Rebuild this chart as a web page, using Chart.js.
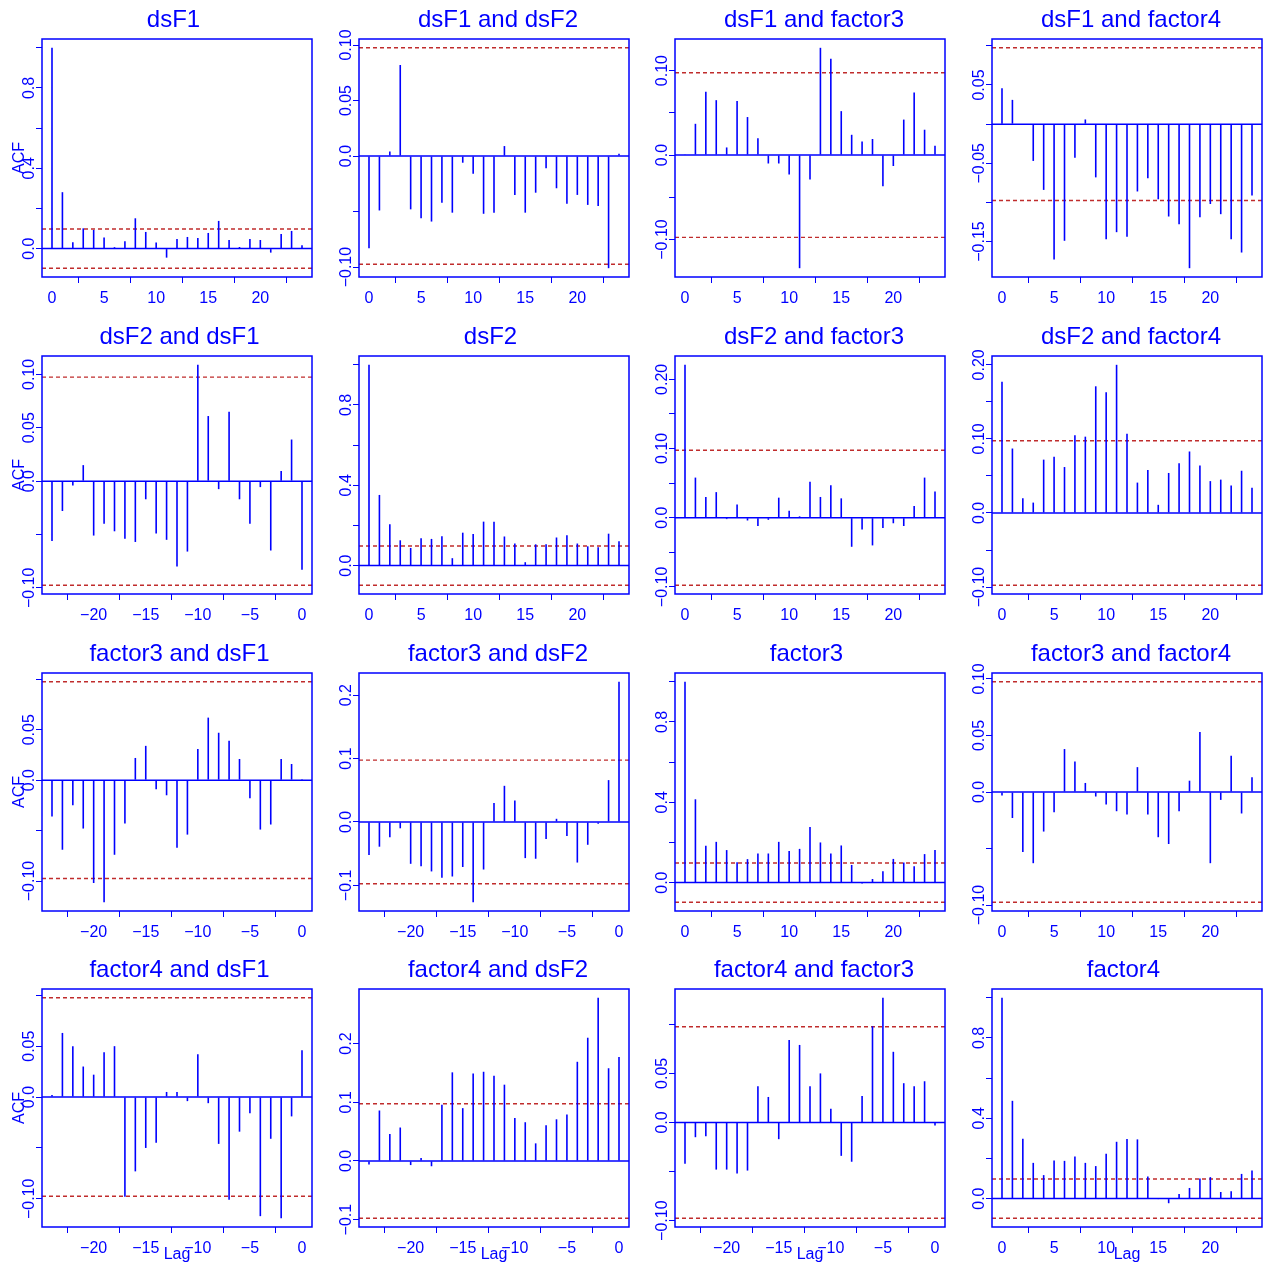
<!DOCTYPE html>
<html>
<head>
<meta charset="utf-8">
<title>ACF / CCF matrix</title>
<script src="https://cdn.jsdelivr.net/npm/chart.js@4.4.1/dist/chart.umd.min.js"></script>
<style>
  html, body { margin: 0; padding: 0; background: #ffffff; }
  #grid { position: relative; width: 1265px; height: 1266px; background: #ffffff; overflow: hidden; }
  #grid canvas { position: absolute; }
</style>
</head>
<body>
<div id="grid"></div>
<script>
// Lags shown on the diagonal / upper panels and on the lower panels
const lagsPos = [0, 1, 2, 3, 4, 5, 6, 7, 8, 9, 10, 11, 12, 13, 14, 15, 16, 17, 18, 19, 20, 21, 22, 23, 24];
const lagsNeg = [-24, -23, -22, -21, -20, -19, -18, -17, -16, -15, -14, -13, -12, -11, -10, -9, -8, -7, -6, -5, -4, -3, -2, -1, 0];

// x-axis ticks
const xTicksPos = [0, 5, 10, 15, 20];
const xLabelsPos = ['0', '5', '10', '15', '20'];
const xTicksNeg = [-20, -15, -10, -5, 0];
const xLabelsNeg = ['\u221220', '\u221215', '\u221210', '\u22125', '0'];

// approximate 95% white-noise bound
const ciBound = 0.0975;

// autocorrelations / cross-correlations
const acfDsF1 = [1.0, 0.281, 0.032, 0.101, 0.093, 0.055, 0.007, 0.037, 0.151, 0.083, 0.030, -0.045, 0.048, 0.058, 0.053, 0.078, 0.138, 0.043, 0.008, 0.048, 0.043, -0.020, 0.073, 0.088, 0.017];
const ccfDsF1DsF2 = [-0.083, -0.049, 0.004, 0.082, -0.048, -0.056, -0.059, -0.042, -0.051, -0.006, -0.016, -0.052, -0.051, 0.009, -0.035, -0.051, -0.033, -0.011, -0.029, -0.043, -0.035, -0.044, -0.045, -0.101, 0.002];
const ccfDsF1Factor3 = [0.001, 0.037, 0.075, 0.065, 0.009, 0.064, 0.045, 0.020, -0.010, -0.010, -0.023, -0.134, -0.029, 0.127, 0.114, 0.052, 0.024, 0.016, 0.019, -0.037, -0.013, 0.042, 0.074, 0.030, 0.011];
const ccfDsF1Factor4 = [0.046, 0.031, -0.001, -0.047, -0.084, -0.173, -0.149, -0.043, 0.006, -0.068, -0.147, -0.138, -0.144, -0.086, -0.069, -0.096, -0.118, -0.128, -0.184, -0.119, -0.102, -0.115, -0.147, -0.164, -0.091];

const ccfDsF2DsF1 = [-0.056, -0.028, -0.004, 0.015, -0.051, -0.040, -0.047, -0.054, -0.057, -0.017, -0.049, -0.055, -0.080, -0.066, 0.109, 0.061, -0.0075, 0.065, -0.017, -0.040, -0.0056, -0.065, 0.0094, 0.039, -0.083];
const acfDsF2 = [1.0, 0.352, 0.206, 0.126, 0.088, 0.136, 0.133, 0.146, 0.037, 0.164, 0.158, 0.219, 0.219, 0.145, 0.110, 0.017, 0.106, 0.106, 0.140, 0.151, 0.110, 0.096, 0.091, 0.159, 0.121];
const ccfDsF2Factor3 = [0.221, 0.058, 0.030, 0.037, -0.002, 0.019, -0.004, -0.012, -0.003, 0.029, 0.010, 0.002, 0.052, 0.030, 0.047, 0.028, -0.042, -0.017, -0.040, -0.015, -0.008, -0.012, 0.017, 0.058, 0.038];
const ccfDsF2Factor4 = [0.177, 0.087, 0.020, 0.014, 0.072, 0.076, 0.062, 0.105, 0.103, 0.171, 0.163, 0.200, 0.107, 0.041, 0.058, 0.011, 0.054, 0.067, 0.083, 0.064, 0.043, 0.045, 0.037, 0.057, 0.034];

const ccfFactor3DsF1 = [-0.036, -0.069, -0.025, -0.048, -0.102, -0.121, -0.074, -0.043, 0.022, 0.034, -0.009, -0.015, -0.067, -0.054, 0.031, 0.062, 0.047, 0.039, 0.021, -0.018, -0.049, -0.044, 0.021, 0.016, 0.001];
const ccfFactor3DsF2 = [-0.052, -0.039, -0.024, -0.010, -0.066, -0.070, -0.078, -0.088, -0.086, -0.071, -0.1265, -0.075, 0.030, 0.057, 0.034, -0.057, -0.058, -0.027, 0.005, -0.022, -0.064, -0.036, -0.003, 0.066, 0.221];
const acfFactor3 = [1.0, 0.415, 0.183, 0.203, 0.162, 0.102, 0.117, 0.145, 0.145, 0.203, 0.158, 0.168, 0.277, 0.200, 0.145, 0.185, 0.088, -0.004, 0.018, 0.057, 0.118, 0.100, 0.082, 0.142, 0.162];
const ccfFactor3Factor4 = [-0.003, -0.023, -0.053, -0.063, -0.035, -0.018, 0.038, 0.027, 0.008, -0.004, -0.011, -0.017, -0.020, 0.022, -0.020, -0.040, -0.046, -0.017, 0.010, 0.053, -0.063, -0.007, 0.032, -0.019, 0.013];

const ccfFactor4DsF1 = [0.002, 0.063, 0.050, 0.030, 0.022, 0.044, 0.050, -0.098, -0.073, -0.050, -0.045, 0.005, 0.005, -0.004, 0.042, -0.006, -0.046, -0.101, -0.034, -0.016, -0.117, -0.041, -0.119, -0.019, 0.046];
const ccfFactor4DsF2 = [-0.006, 0.086, 0.046, 0.057, -0.007, 0.005, -0.009, 0.096, 0.151, 0.090, 0.149, 0.152, 0.145, 0.130, 0.073, 0.066, 0.030, 0.061, 0.071, 0.079, 0.169, 0.210, 0.278, 0.158, 0.177];
const ccfFactor4Factor3 = [-0.042, -0.015, -0.014, -0.048, -0.048, -0.052, -0.049, 0.037, 0.026, -0.017, 0.084, 0.079, 0.037, 0.050, 0.014, -0.034, -0.040, 0.027, 0.098, 0.127, 0.072, 0.040, 0.037, 0.042, -0.003];
const acfFactor4 = [1.0, 0.487, 0.298, 0.178, 0.117, 0.190, 0.188, 0.210, 0.178, 0.162, 0.223, 0.283, 0.297, 0.295, 0.110, -0.002, -0.023, 0.023, 0.053, 0.100, 0.107, 0.033, 0.037, 0.123, 0.140];

// panel titles, row by row
const titles = [
  'dsF1', 'dsF1 and dsF2', 'dsF1 and factor3', 'dsF1 and factor4',
  'dsF2 and dsF1', 'dsF2', 'dsF2 and factor3', 'dsF2 and factor4',
  'factor3 and dsF1', 'factor3 and dsF2', 'factor3', 'factor3 and factor4',
  'factor4 and dsF1', 'factor4 and dsF2', 'factor4 and factor3', 'factor4'
];

// y-axis ticks (blank label = tick mark only)
const yTicksUnit = [0, 0.2, 0.4, 0.6, 0.8, 1.0];
const yLabelsUnit = ['0.0', '', '0.4', '', '0.8', ''];
const yTicksSmall = [-0.10, -0.05, 0, 0.05, 0.10];
const yLabelsSmallA = ['\u22120.10', '', '0.0', '0.05', '0.10'];
const yLabelsSmallB = ['\u22120.10', '', '0.0', '', '0.10'];
const yLabelsSmallC = ['\u22120.10', '', '0.0', '0.05', ''];
const yTicksNegWide = [-0.15, -0.10, -0.05, 0, 0.05, 0.10];
const yLabelsNegWide = ['\u22120.15', '', '\u22120.05', '', '0.05', ''];
const yTicksPosWide = [-0.10, -0.05, 0, 0.05, 0.10, 0.15, 0.20];
const yLabelsPosWide = ['\u22120.10', '', '0.0', '', '0.10', '', '0.20'];
const yTicksTenths = [-0.1, 0, 0.1, 0.2];
const yLabelsTenths = ['\u22120.1', '0.0', '0.1', '0.2'];

const panels = [
  { title: titles[0],  lags: lagsPos, values: acfDsF1,           yt: yTicksUnit,     yl: yLabelsUnit },
  { title: titles[1],  lags: lagsPos, values: ccfDsF1DsF2,       yt: yTicksSmall,    yl: yLabelsSmallA },
  { title: titles[2],  lags: lagsPos, values: ccfDsF1Factor3,    yt: yTicksSmall,    yl: yLabelsSmallB },
  { title: titles[3],  lags: lagsPos, values: ccfDsF1Factor4,    yt: yTicksNegWide,  yl: yLabelsNegWide },
  { title: titles[4],  lags: lagsNeg, values: ccfDsF2DsF1,       yt: yTicksSmall,    yl: yLabelsSmallA },
  { title: titles[5],  lags: lagsPos, values: acfDsF2,           yt: yTicksUnit,     yl: yLabelsUnit },
  { title: titles[6],  lags: lagsPos, values: ccfDsF2Factor3,    yt: yTicksPosWide,  yl: yLabelsPosWide },
  { title: titles[7],  lags: lagsPos, values: ccfDsF2Factor4,    yt: yTicksPosWide,  yl: yLabelsPosWide },
  { title: titles[8],  lags: lagsNeg, values: ccfFactor3DsF1,    yt: yTicksSmall,    yl: yLabelsSmallC },
  { title: titles[9],  lags: lagsNeg, values: ccfFactor3DsF2,    yt: yTicksTenths,   yl: yLabelsTenths },
  { title: titles[10], lags: lagsPos, values: acfFactor3,        yt: yTicksUnit,     yl: yLabelsUnit },
  { title: titles[11], lags: lagsPos, values: ccfFactor3Factor4, yt: yTicksSmall,    yl: yLabelsSmallA },
  { title: titles[12], lags: lagsNeg, values: ccfFactor4DsF1,    yt: yTicksSmall,    yl: yLabelsSmallC },
  { title: titles[13], lags: lagsNeg, values: ccfFactor4DsF2,    yt: yTicksTenths,   yl: yLabelsTenths },
  { title: titles[14], lags: lagsNeg, values: ccfFactor4Factor3, yt: yTicksSmall,    yl: yLabelsSmallC },
  { title: titles[15], lags: lagsPos, values: acfFactor4,        yt: yTicksUnit,     yl: yLabelsUnit }
];

const FONT = '"Liberation Sans", Arial, Helvetica, sans-serif';
const BLUE = '#0000ff';
const RED = '#c02c2c';

const CELL_W = 316.7, CELL_H = 316.8, CANVAS = 317;
const PAD_TOP = 39, Y_AXIS_W = 42, PAD_RIGHT = 5, X_AXIS_H = 40;

const gridEl = document.getElementById('grid');

// box, title, rotated y labels and axis titles
function framePlugin(panel, row, col) {
  // single-series titles sit a little left of centre, pair titles a little right
  const titleShift = row === col ? -3.5 : (col === 0 ? 2.5 : 4);
  return {
    id: 'frame' + row + col,
    afterDraw(chart) {
      const { ctx, chartArea: a } = chart;
      const yScale = chart.scales.y;
      ctx.save();
      ctx.strokeStyle = BLUE;
      ctx.lineWidth = 1.5;
      ctx.strokeRect(a.left, a.top, a.right - a.left, a.bottom - a.top);

      ctx.fillStyle = BLUE;
      ctx.textBaseline = 'alphabetic';
      ctx.textAlign = 'center';
      ctx.font = '24px ' + FONT;
      ctx.fillText(panel.title, (a.left + a.right) / 2 + titleShift, a.top - 12.5);

      ctx.font = '16px ' + FONT;
      panel.yt.forEach((v, k) => {
        const lbl = panel.yl[k];
        if (!lbl) return;
        const y = yScale.getPixelForValue(v);
        ctx.save();
        ctx.translate(a.left - 8.5, y);
        ctx.rotate(-Math.PI / 2);
        ctx.fillText(lbl, 0, 0);
        ctx.restore();
      });

      if (col === 0) {
        ctx.save();
        ctx.translate(23.5, (a.top + a.bottom) / 2);
        ctx.rotate(-Math.PI / 2);
        ctx.fillText('ACF', 0, 0);
        ctx.restore();
      }
      if (row === 3) {
        ctx.fillText('Lag', (a.left + a.right) / 2, a.bottom + 32);
      }
      ctx.restore();
    }
  };
}

panels.forEach((panel, i) => {
  const row = Math.floor(i / 4), col = i % 4;
  const cv = document.createElement('canvas');
  cv.width = CANVAS; cv.height = CANVAS;
  cv.style.width = CANVAS + 'px'; cv.style.height = CANVAS + 'px';
  cv.style.left = Math.round(col * CELL_W) + 'px';
  cv.style.top = Math.round(row * CELL_H) + 'px';
  gridEl.appendChild(cv);

  // ranges as in R's acf plot: data and bounds, widened by 4%
  const lo = Math.min(-ciBound, ...panel.values);
  const hi = Math.max(ciBound, ...panel.values);
  const yPad = 0.04 * (hi - lo);
  const xLo = panel.lags[0], xHi = panel.lags[panel.lags.length - 1];
  const xPad = 0.04 * (xHi - xLo);
  const xMin = xLo - xPad, xMax = xHi + xPad;
  const negative = xLo < 0;
  const xt = negative ? xTicksNeg : xTicksPos;
  const xl = negative ? xLabelsNeg : xLabelsPos;

  const axisGrid = { drawOnChartArea: false, drawTicks: true, tickLength: 6, color: BLUE, lineWidth: 1 };

  new Chart(cv, {
    type: 'bar',
    data: {
      datasets: [
        {
          type: 'bar',
          data: panel.lags.map((l, k) => ({ x: l, y: panel.values[k] })),
          backgroundColor: BLUE,
          borderWidth: 0,
          barThickness: 1.6,
          inflateAmount: 0
        },
        {
          type: 'line',
          data: [{ x: xMin, y: 0 }, { x: xMax, y: 0 }],
          borderColor: BLUE, borderWidth: 1.5, pointRadius: 0
        },
        {
          type: 'line',
          data: [{ x: xMin, y: ciBound }, { x: xMax, y: ciBound }],
          borderColor: RED, borderWidth: 1.4, borderDash: [4, 3], pointRadius: 0
        },
        {
          type: 'line',
          data: [{ x: xMin, y: -ciBound }, { x: xMax, y: -ciBound }],
          borderColor: RED, borderWidth: 1.4, borderDash: [4, 3], pointRadius: 0
        }
      ]
    },
    options: {
      responsive: false,
      animation: false,
      devicePixelRatio: 1,
      events: [],
      layout: { padding: { top: PAD_TOP, left: 0, right: PAD_RIGHT, bottom: 0 } },
      plugins: { legend: { display: false }, tooltip: { enabled: false }, title: { display: false } },
      scales: {
        x: {
          type: 'linear', min: xMin, max: xMax, offset: false,
          afterBuildTicks: s => { s.ticks = xt.map(v => ({ value: v })); },
          afterFit: s => { s.height = X_AXIS_H; },
          ticks: {
            color: BLUE, font: { family: FONT, size: 16 }, padding: 6,
            maxRotation: 0, minRotation: 0, autoSkip: false,
            callback: (v, idx) => xl[idx]
          },
          grid: axisGrid,
          border: { display: false }
        },
        y: {
          type: 'linear', min: lo - yPad, max: hi + yPad,
          afterBuildTicks: s => { s.ticks = panel.yt.map(v => ({ value: v })); },
          afterFit: s => { s.width = Y_AXIS_W; },
          ticks: { display: false },
          grid: axisGrid,
          border: { display: false }
        }
      }
    },
    plugins: [framePlugin(panel, row, col)]
  });
});
</script>
</body>
</html>
